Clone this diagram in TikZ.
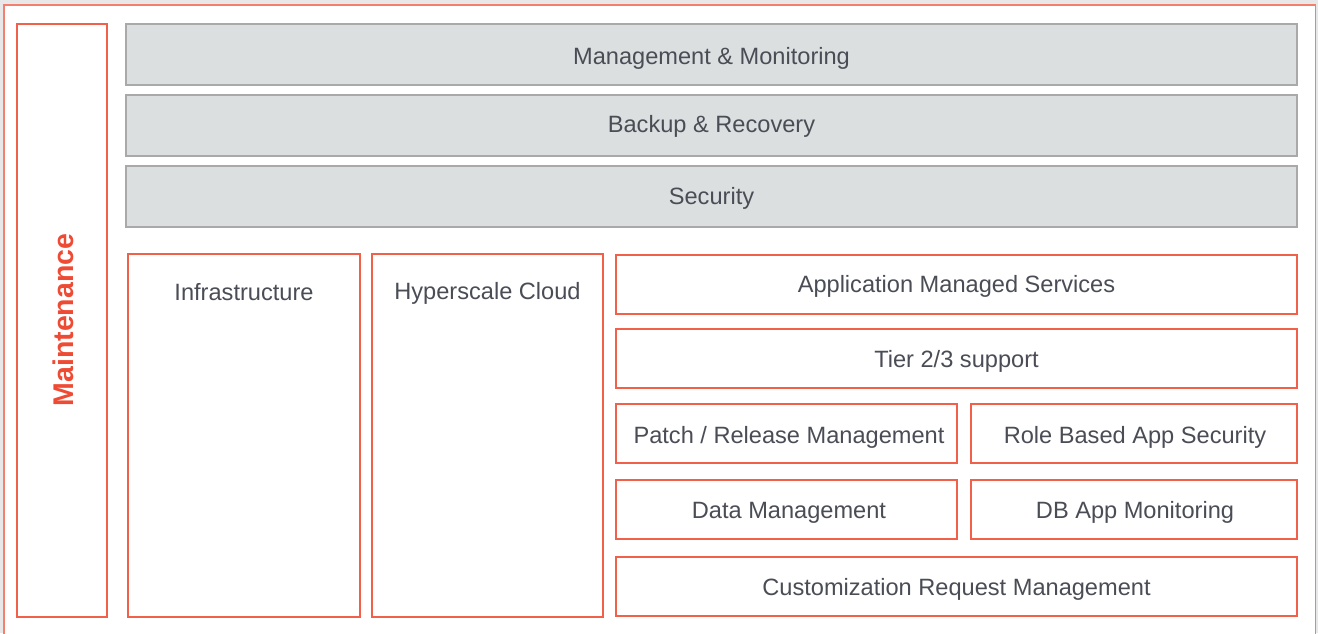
\documentclass[tikz,border=0pt]{standalone}
\usepackage{fontspec}
\setmainfont{Liberation Sans}
\definecolor{frame}{HTML}{F0604A}
\definecolor{mred}{HTML}{EF4B34}
\definecolor{barfill}{HTML}{DCDFE0}
\definecolor{barline}{HTML}{A9A9A9}
\definecolor{txtc}{HTML}{4A4D55}
\definecolor{bgc}{HTML}{E8E8E8}
\begin{document}
\begin{tikzpicture}[x=1pt,y=-1pt,
  redbox/.style={draw=frame, line width=1.5pt, fill=white, rectangle, inner sep=0pt},
  graybar/.style={draw=barline, line width=2pt, fill=barfill, rectangle, inner sep=0pt},
  txt/.style={text=txtc, font=\fontsize{23.6}{26}\selectfont, inner sep=0pt, anchor=base}]
\useasboundingbox (0,0) rectangle (1318,633);
\fill[bgc] (0,0) rectangle (1318,633);
\draw[frame!80, line width=1.5pt, fill=white] (4,5) -- (1315.5,5) -- (1315.5,640) -- (4,640) -- cycle;
% Maintenance
\draw[redbox] (17,24) rectangle (107,617);
\coordinate (maintc) at (63,320);
\node[rotate=90, text=mred, font=\bfseries\fontsize{28.5}{30}\selectfont, inner sep=0pt] (maint) at (maintc) {Maintenance};
% gray bars
\draw[graybar] (126,24) rectangle (1297,85);
\node[txt] (mm) at (711.5,64) {Management \& Monitoring};
\draw[graybar] (126,95) rectangle (1297,156);
\node[txt] (br) at (711.5,132) {Backup \& Recovery};
\draw[graybar] (126,166) rectangle (1297,227);
\node[txt] (sec) at (711.5,204) {Security};
% tall boxes
\draw[redbox] (128,254) rectangle (360,617);
\node[txt] (infra) at (244,300) {Infrastructure};
\draw[redbox] (372,254) rectangle (603,617);
\node[txt] (hyper) at (487.5,299) {Hyperscale Cloud};
% right boxes
\draw[redbox] (616,255) rectangle (1297,314);
\node[txt] (ams) at (956.5,292) {Application Managed Services};
\draw[redbox] (616,329) rectangle (1297,388);
\node[txt] (tier) at (956.5,367) {Tier 2/3 support};
\draw[redbox] (616,404) rectangle (957,463);
\node[txt] (patch) at (789,443) {Patch / Release Management};
\draw[redbox] (971,404) rectangle (1297,463);
\node[txt] (role) at (1135,443) {Role Based App Security};
\draw[redbox] (616,480) rectangle (957,539);
\node[txt] (data) at (789,518) {Data Management};
\draw[redbox] (971,480) rectangle (1297,539);
\node[txt] (db) at (1135,518) {DB App Monitoring};
\draw[redbox] (616,557) rectangle (1297,616);
\node[txt] (cust) at (956.5,595) {Customization Request Management};
\end{tikzpicture}
\end{document}
